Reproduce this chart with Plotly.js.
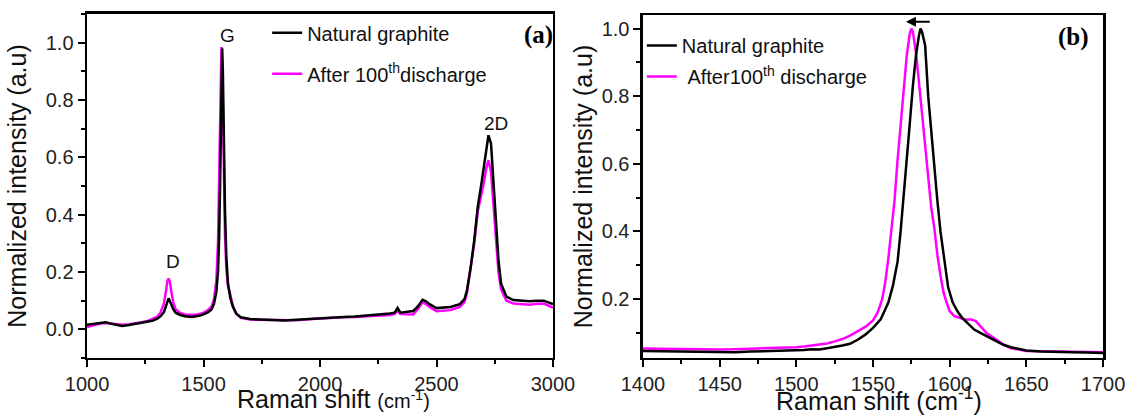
<!DOCTYPE html>
<html>
<head>
<meta charset="utf-8">
<script src="https://cdn.plot.ly/plotly-3.0.1.min.js"></script>
<style>html,body{margin:0;padding:0;background:#fff;}</style>
</head>
<body>
<div id="chart" style="width:1132px;height:419px;"></div>
<script>
// ---------- Panel (a): full Raman spectra ----------
const shiftA = [1000,1020,1040,1060,1080,1100,1120,1150,1180,1200,1230,1260,1280,1300,1315,1330,1340,1345,1350,1355,1360,1370,1380,1400,1420,1450,1480,1500,1520,1535,1545,1555,1562,1567,1571,1574,1577,1580,1583,1587,1592,1598,1605,1615,1625,1640,1660,1700,1750,1800,1850,1900,1950,2000,2050,2100,2150,2200,2250,2300,2320,2333,2345,2370,2400,2420,2440,2455,2470,2500,2530,2560,2600,2620,2631,2647,2662,2677,2693,2703,2713,2723,2734,2743,2754,2766,2777,2800,2830,2860,2900,2930,2960,3000];
const naturalA = [0.016,0.018,0.020,0.024,0.025,0.020,0.016,0.012,0.015,0.018,0.020,0.025,0.030,0.036,0.045,0.060,0.085,0.100,0.108,0.100,0.090,0.070,0.058,0.050,0.046,0.043,0.047,0.052,0.060,0.070,0.090,0.130,0.200,0.320,0.500,0.700,0.880,0.980,0.900,0.660,0.420,0.250,0.160,0.110,0.080,0.055,0.042,0.036,0.034,0.033,0.031,0.033,0.036,0.039,0.041,0.043,0.045,0.048,0.050,0.055,0.058,0.075,0.058,0.060,0.064,0.080,0.103,0.098,0.088,0.074,0.075,0.078,0.088,0.105,0.137,0.218,0.311,0.427,0.509,0.567,0.636,0.677,0.648,0.544,0.393,0.242,0.160,0.114,0.102,0.100,0.098,0.100,0.100,0.088];
const dischargeA = [0.008,0.013,0.017,0.020,0.022,0.020,0.018,0.016,0.018,0.020,0.024,0.029,0.035,0.043,0.058,0.090,0.140,0.168,0.177,0.168,0.140,0.095,0.070,0.057,0.052,0.050,0.053,0.058,0.068,0.080,0.105,0.170,0.300,0.500,0.720,0.900,0.985,0.930,0.750,0.520,0.330,0.210,0.150,0.120,0.085,0.055,0.040,0.034,0.033,0.032,0.031,0.032,0.035,0.038,0.040,0.042,0.043,0.045,0.047,0.050,0.053,0.065,0.053,0.052,0.052,0.070,0.094,0.088,0.078,0.063,0.064,0.067,0.078,0.095,0.128,0.210,0.300,0.410,0.470,0.510,0.560,0.590,0.550,0.450,0.320,0.200,0.140,0.100,0.090,0.088,0.086,0.089,0.090,0.076];

// ---------- Panel (b): G band detail ----------
const shiftB_nat = [1400,1410,1420,1430,1440,1450,1460,1470,1480,1490,1500,1505,1510,1515,1520,1525,1530,1535,1540,1545,1550,1555,1560,1563,1566,1568,1570,1572,1574,1576,1578,1580,1581,1582,1584,1586,1588,1590,1592,1594,1596,1599,1602,1605,1608,1612,1616,1620,1625,1630,1635,1640,1645,1650,1660,1670,1680,1690,1700];
const naturalB = [0.047,0.046,0.045,0.045,0.043,0.044,0.043,0.045,0.046,0.047,0.049,0.050,0.052,0.051,0.055,0.058,0.063,0.068,0.080,0.095,0.115,0.140,0.190,0.240,0.310,0.400,0.500,0.600,0.720,0.830,0.920,0.980,1.000,0.990,0.950,0.800,0.690,0.580,0.490,0.400,0.330,0.235,0.190,0.165,0.145,0.128,0.110,0.100,0.088,0.075,0.065,0.058,0.052,0.048,0.045,0.043,0.043,0.042,0.041];
const shiftB_dis = [1400,1410,1420,1430,1440,1450,1460,1470,1480,1490,1500,1505,1510,1515,1520,1525,1530,1535,1540,1545,1550,1553,1556,1558,1560,1562,1564,1566,1568,1570,1572,1574,1575,1576,1578,1580,1582,1584,1586,1588,1590,1592,1594,1596,1598,1600,1603,1606,1610,1614,1617,1620,1624,1628,1632,1636,1640,1645,1650,1660,1670,1680,1690,1700];
const dischargeB = [0.054,0.053,0.052,0.051,0.050,0.051,0.052,0.053,0.054,0.056,0.058,0.060,0.063,0.066,0.069,0.075,0.082,0.092,0.104,0.118,0.137,0.160,0.200,0.250,0.320,0.400,0.490,0.610,0.720,0.830,0.920,0.985,1.000,0.990,0.930,0.840,0.750,0.650,0.560,0.470,0.410,0.330,0.270,0.220,0.190,0.165,0.150,0.145,0.140,0.140,0.135,0.120,0.100,0.088,0.075,0.063,0.055,0.050,0.047,0.046,0.045,0.044,0.043,0.043];

const seriesNames = ['Natural graphite', 'After 100<sup>th</sup>discharge', 'After100<sup>th</sup> discharge'];
const xTicksA = [1000,1500,2000,2500,3000];
const xTicksB = [1400,1450,1500,1550,1600,1650,1700];

const FONT = 'Liberation Sans, Arial, Helvetica, sans-serif';
const MAG = '#ff00ff';

const traces = [
  {x: shiftA, y: dischargeA, type:'scatter', mode:'lines', name: seriesNames[1],
   line:{color:MAG, width:2.5}, xaxis:'x', yaxis:'y', legend:'legend', legendgroup:'a2', legendrank:2},
  {x: shiftA, y: naturalA, type:'scatter', mode:'lines', name: seriesNames[0],
   line:{color:'#000', width:2.5}, xaxis:'x', yaxis:'y', legend:'legend', legendgroup:'a1', legendrank:1},
  {x: shiftB_dis, y: dischargeB, type:'scatter', mode:'lines', name: '\u00a0' + seriesNames[2],
   line:{color:MAG, width:2.5}, xaxis:'x2', yaxis:'y2', legend:'legend2', legendgroup:'b2', legendrank:2},
  {x: shiftB_nat, y: naturalB, type:'scatter', mode:'lines', name: seriesNames[0],
   line:{color:'#000', width:2.5}, xaxis:'x2', yaxis:'y2', legend:'legend2', legendgroup:'b1', legendrank:1}
];

function axisBase(extra){
  return Object.assign({
    showline:true, linecolor:'#000', linewidth:2.5, mirror:true,
    ticks:'outside', ticklen:7, tickwidth:2, tickcolor:'#000',
    showgrid:false, zeroline:false,
    tickfont:{family:FONT, size:20, color:'#222'}
  }, extra);
}

const layout = {
  width:1132, height:419,
  margin:{l:0, r:0, t:0, b:0},
  paper_bgcolor:'#fff', plot_bgcolor:'#fff',
  font:{family:FONT, color:'#000'},
  showlegend:true,
  xaxis: axisBase({domain:[0.0769,0.4885], range:[1000,3000], anchor:'y',
    tickvals:xTicksA, minor:{dtick:250, tick0:1000, ticklen:4, tickwidth:2, tickcolor:'#000', ticks:'outside'}}),
  yaxis: axisBase({domain:[0.1456,0.9666], range:[-0.1,1.1], anchor:'x',
    tick0:0, dtick:0.2, tickformat:'.1f', minor:{dtick:0.1, tick0:0, ticklen:4, tickwidth:2, tickcolor:'#000', ticks:'outside'},
    title:{text:'Normalized intensity (a.u)', font:{family:FONT, size:25, color:'#111'}, standoff:12}}),
  xaxis2: axisBase({domain:[0.568,0.9744], range:[1400,1700], anchor:'y2',
    tickvals:xTicksB, minor:{dtick:25, tick0:1400, ticklen:4, tickwidth:2, tickcolor:'#000', ticks:'outside'}}),
  yaxis2: axisBase({domain:[0.1456,0.9642], range:[0.026,1.04], anchor:'x2',
    tick0:0, dtick:0.2, tickformat:'.1f', minor:{dtick:0.1, tick0:0, ticklen:4, tickwidth:2, tickcolor:'#000', ticks:'outside'},
    title:{text:'Normalized intensity (a.u)', font:{family:FONT, size:25, color:'#111'}, standoff:2}}),
  legend: {x:0.236, y:0.9685, xanchor:'left', yanchor:'top', bgcolor:'rgba(0,0,0,0)', borderwidth:0,
    font:{family:FONT, size:20, color:'#111'}, traceorder:'grouped', tracegroupgap:12},
  legend2: {x:0.567, y:0.938, xanchor:'left', yanchor:'top', bgcolor:'rgba(0,0,0,0)', borderwidth:0,
    font:{family:FONT, size:20, color:'#111'}, traceorder:'grouped', tracegroupgap:2},
  annotations: [
    {text:'Raman shift <span style="font-size:20px">(cm<sup>-1</sup>)</span>', xref:'paper', yref:'paper', x:0.2942, y:0.048,
     xanchor:'center', yanchor:'middle', showarrow:false, font:{family:FONT, size:25, color:'#111'}},
    {text:'Raman shift (cm<sup>-1</sup>)', xref:'paper', yref:'paper', x:0.7765, y:0.048,
     xanchor:'center', yanchor:'middle', showarrow:false, font:{family:FONT, size:25, color:'#111'}},
    {text:'<b>(a)</b>', xref:'paper', yref:'paper', x:0.4753, y:0.9165, xanchor:'center', yanchor:'middle', showarrow:false,
     font:{family:'Liberation Serif, Times New Roman, serif', size:25, color:'#000'}},
    {text:'<b>(b)</b>', xref:'paper', yref:'paper', x:0.948, y:0.9117, xanchor:'center', yanchor:'middle', showarrow:false,
     font:{family:'Liberation Serif, Times New Roman, serif', size:25, color:'#000'}},
    {text:'G', xref:'x', yref:'y', x:1602, y:1.026, xanchor:'center', yanchor:'middle', showarrow:false, font:{family:FONT, size:19, color:'#111'}},
    {text:'D', xref:'x', yref:'y', x:1367, y:0.236, xanchor:'center', yanchor:'middle', showarrow:false, font:{family:FONT, size:19, color:'#111'}},
    {text:'2D', xref:'x', yref:'y', x:2754, y:0.718, xanchor:'center', yanchor:'middle', showarrow:false, font:{family:FONT, size:19, color:'#111'}},
    {text:'', xref:'x2', yref:'y2', x:1571.5, y:1.02, axref:'x2', ayref:'y2', ax:1588, ay:1.02,
     showarrow:true, arrowhead:2, arrowsize:1, arrowwidth:2, arrowcolor:'#000'}
  ]
};

Plotly.newPlot('chart', traces, layout, {staticPlot:true, displayModeBar:false});
</script>
</body>
</html>
